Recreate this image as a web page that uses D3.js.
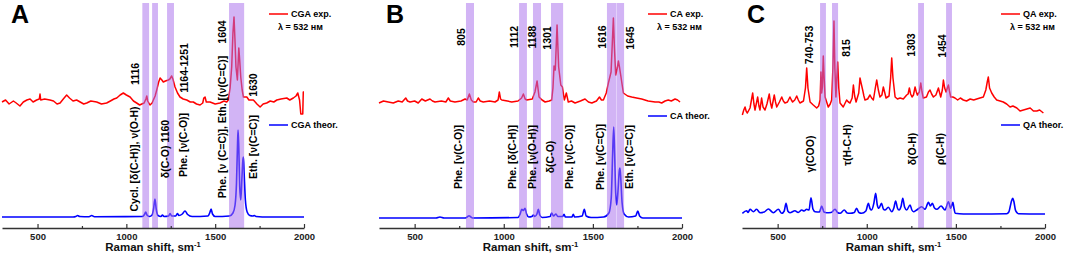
<!DOCTYPE html>
<html>
<head>
<meta charset="utf-8">
<title>Raman spectra</title>
<style>
  body { margin: 0; background: #fff; }
  svg { font-family: "Liberation Sans", Arial, sans-serif; font-weight: bold; }
  .tick text { font-size: 9.5px; font-weight: bold; fill: #222; }
</style>
</head>
<body>
<svg></svg>
<script src="https://d3js.org/d3.v7.min.js"></script>
<script>
const width = 1065;
const height = 258;

// wavenumber (cm-1), intensity (a.u.)
const cgaExp = [[300,126],[320,128],[340,124],[364,127],[380,125],[401,122],[420,126],[440,128],[458,129],[475,126],[495,128],[510,129],[514,134],[518,128],[540,129],[570,128],[590,127],[610,124],[627,125],[645,129],[664,133],[680,130],[700,127],[720,128],[740,126],[760,124],[777,125],[800,127],[833,126],[860,124],[889,125],[910,127],[930,129],[946,130],[965,133],[983,135],[1000,133],[1021,131],[1040,127],[1058,125],[1075,123],[1087,124],[1100,125],[1110,129],[1115,132],[1120,127],[1133,123],[1145,125],[1152,128],[1162,132],[1171,138],[1182,146],[1190,150],[1200,148],[1208,146],[1220,147],[1236,148],[1245,149],[1255,152],[1262,149],[1274,141],[1288,135],[1302,131],[1320,129],[1340,128],[1360,126],[1377,126],[1395,124],[1415,123],[1430,125],[1436,130],[1443,131],[1450,126],[1471,126],[1500,124],[1527,125],[1550,127],[1565,126],[1574,128],[1584,140],[1593,161],[1600,195],[1606,211],[1611,190],[1617,161],[1625,148],[1633,180],[1638,168],[1644,151],[1652,138],[1659,131],[1678,131],[1690,128],[1715,128],[1735,124],[1753,121],[1770,124],[1790,125],[1810,127],[1830,126],[1847,128],[1870,129],[1903,130],[1920,128],[1940,130],[1955,132],[1965,135],[1975,128],[1982,114],[1993,114],[1996,136],[2000,136]];
const cgaTheor = [[300,11],[700,11],[715,11.5],[726,12.5],[737,11.5],[790,11.3],[805,12.5],[820,11.3],[1090,11.5],[1102,13.5],[1109,16],[1116,13],[1130,11.5],[1145,13],[1153,19],[1161,29],[1168,19],[1178,12.5],[1195,11.5],[1203,13],[1212,11.5],[1238,12],[1246,14.5],[1255,12],[1278,12],[1287,14.5],[1296,12.5],[1315,14],[1330,17],[1345,13.5],[1370,11.5],[1460,12],[1470,15.5],[1477,19],[1485,14],[1500,11.5],[1580,12],[1600,15],[1612,23],[1620,45],[1626,85],[1629,98],[1633,80],[1638,42],[1644,28],[1650,48],[1656,68],[1659,71],[1663,55],[1670,28],[1680,16],[1695,12.5],[1712,12],[1721,12.5],[1730,11.5],[1800,11],[2000,11]];

const caExp = [[300,125],[325,127],[352,126],[380,125],[408,127],[430,126],[450,130],[460,127],[474,126],[500,127],[520,125],[540,129],[560,127],[586,129],[600,127],[614,126],[650,127],[675,126],[689,130],[700,127],[726,126],[760,127],[783,129],[795,128],[807,134],[818,128],[829,126],[845,126],[857,130],[868,127],[885,126],[920,127],[951,126],[968,128],[975,136],[982,129],[989,128],[1020,127],[1045,126],[1080,127],[1100,130],[1110,134],[1120,129],[1129,128],[1160,129],[1175,136],[1187,147],[1198,131],[1215,128],[1232,126],[1255,127],[1269,128],[1276,140],[1282,162],[1289,158],[1299,203],[1308,161],[1320,143],[1329,141],[1340,128],[1351,135],[1362,126],[1380,127],[1400,125],[1430,127],[1456,129],[1475,126],[1494,125],[1520,127],[1537,131],[1548,128],[1559,128],[1575,135],[1587,145],[1602,156],[1609,185],[1615,210],[1621,180],[1628,153],[1637,160],[1643,167],[1650,160],[1656,153],[1671,135],[1695,132],[1718,131],[1745,130],[1774,129],[1810,127],[1849,126],[1870,126],[1886,125],[1905,127],[1923,128],[1940,127],[1961,129],[1975,128],[1989,126]];
const caTheor = [[300,10],[620,10],[642,11],[665,10],[785,10],[798,11.5],[805,12.3],[812,11.5],[825,10],[1080,10.5],[1092,14],[1101,18.7],[1110,17.5],[1119,19.7],[1128,14],[1140,11],[1158,11.5],[1166,13],[1174,11.5],[1186,14],[1194,18.7],[1202,13],[1215,10.5],[1260,11.5],[1269,15],[1279,12],[1293,14],[1303,11.5],[1330,11.5],[1338,13.7],[1346,11],[1382,11],[1390,13.7],[1398,11],[1440,12],[1452,18.7],[1462,12],[1490,10.5],[1560,11],[1590,15],[1603,30],[1611,75],[1617,101],[1622,75],[1628,35],[1634,23],[1642,40],[1648,57],[1652,60],[1657,48],[1664,25],[1675,14],[1700,11],[1740,12],[1752,17],[1762,12],[1780,10],[2000,10]];

const qaExp = [[302,113],[310,118],[317,121],[323,117],[330,115],[345,120],[360,135],[367,124],[373,118],[388,131],[395,122],[401,118],[410,130],[418,121],[429,118],[440,124],[453,134],[460,125],[467,120],[481,133],[488,126],[495,121],[510,126],[523,131],[532,127],[541,125],[555,126],[569,131],[577,128],[584,126],[596,128],[607,132],[616,128],[625,125],[645,127],[656,140],[663,160],[670,140],[682,126],[700,123],[719,120],[730,122],[738,128],[743,156],[747,135],[751,141],[756,172],[761,150],[766,131],[775,126],[784,121],[795,124],[803,128],[810,160],[816,207],[821,160],[827,131],[832,150],[837,166],[843,140],[850,125],[868,121],[887,128],[897,126],[906,125],[918,130],[925,143],[932,132],[940,126],[955,135],[962,150],[968,145],[977,138],[984,132],[990,128],[1005,129],[1018,133],[1027,130],[1037,128],[1048,140],[1056,148],[1065,138],[1074,131],[1085,133],[1093,141],[1100,136],[1108,130],[1125,132],[1134,150],[1140,170],[1147,150],[1159,131],[1172,129],[1187,130],[1205,129],[1224,133],[1232,134],[1239,140],[1246,134],[1254,131],[1262,133],[1271,141],[1278,136],[1284,133],[1295,136],[1303,145],[1310,136],[1317,130],[1335,131],[1346,136],[1355,138],[1364,134],[1374,131],[1388,133],[1396,137],[1402,140],[1409,135],[1415,131],[1424,138],[1430,148],[1437,140],[1445,136],[1452,140],[1458,143],[1464,137],[1471,131],[1483,131],[1495,130],[1510,128],[1525,130],[1542,128],[1560,127],[1580,129],[1600,128],[1617,129],[1635,130],[1654,131],[1668,138],[1676,146],[1682,151],[1689,140],[1701,135],[1715,131],[1729,128],[1748,127],[1766,126],[1785,124],[1804,121],[1820,122],[1842,120],[1860,117],[1879,118],[1898,119],[1917,120],[1935,117],[1954,117],[1970,118],[1991,115]];
const qaTheor = [[302,14.7],[326,17.3],[334,15.5],[345,18.7],[364,16.3],[382,18.7],[401,15.3],[425,16],[448,19],[476,15.3],[504,18.7],[523,14.7],[537,17],[547,24.7],[557,17],[569,15.3],[597,17.3],[615,15.5],[635,18],[648,17],[663,18.7],[676,18],[687,30.3],[698,19],[710,16.3],[735,16],[747,22],[760,16],[775,15.3],[800,15.5],[822,18.7],[836,15.5],[850,14.7],[874,18],[890,15],[906,14.7],[930,15.5],[943,19.7],[956,15.5],[971,14.7],[995,17],[1009,24.7],[1018,19.5],[1027,18],[1040,25],[1050,34.7],[1059,23],[1068,19.7],[1083,24.7],[1093,19],[1102,18],[1121,20.7],[1140,16.3],[1152,20],[1162,27],[1172,20],[1181,18],[1193,22],[1202,29.7],[1212,21],[1224,18],[1243,23],[1253,18],[1262,16.3],[1280,18],[1308,21.3],[1327,18.7],[1346,25.7],[1357,22],[1368,24.7],[1380,20],[1393,18.7],[1417,22],[1439,18],[1458,26.3],[1471,19.7],[1483,25.7],[1490,19],[1496,14.7],[1542,14],[1617,14],[1785,14.3],[1797,16],[1804,20.7],[1812,27],[1819,29.7],[1826,26],[1834,18],[1842,15.5],[1851,14.3],[2000,14]];

// highlighted wavenumber ranges
const cgaBands = [[1090,1128],[1145,1178],[1229,1268],[1578,1663]];
const caBands = [[788,833],[1086,1130],[1164,1209],[1265,1333],[1579,1630],[1632,1675]];
const qaBands = [[738,771],[805,839],[1288,1321],[1445,1478]];

// annotation texts at (wavenumber, intensity)
const cgaLabels = [
  ['1116', 1049, 154], ['Cycl. [δ(C-H)], ν(O-H)', 1043, 69],
  ['δ(C-O)  1160', 1218, 79], ['Phe. [ν(C-O)]', 1319, 83], ['1164-1251', 1325, 160],
  ['Phe. [ν (C=C)], Eth. [(ν(C=C)]', 1539, 101], ['1604', 1539, 196],
  ['1630', 1713, 143], ['Eth. [ν(C=C)]', 1713, 81]
];
const caLabels = [
  ['805', 760, 191], ['1112', 1058, 191], ['1188', 1159, 191], ['1301', 1243, 190],
  ['1616', 1551, 191], ['1645', 1709, 190],
  ['Phe. [ν(C-O)]', 743, 71], ['Phe. [δ(C-H)]', 1046, 71], ['Phe. [ν(O-H)]', 1159, 71],
  ['δ(C-O)', 1260, 71], ['Phe. [ν(C-O)]', 1366, 71], ['Phe. [ν(C=C)]', 1540, 71],
  ['Eth. [ν(C=C)]', 1703, 71]
];
const qaLabels = [
  ['740-753', 676, 183], ['815', 884, 180], ['1303', 1248, 183], ['1454', 1422, 182],
  ['γ(COO)', 682, 74], ['τ(H-C-H)', 889, 83], ['δ(O-H)', 1254, 79], ['ρ(C-H)', 1411, 79]
];

const xTicks = [500, 1000, 1500, 2000];
const xMinor = [750, 1250, 1750];

const panels = [
  { letter: 'A', left: 2, right: 304, letterX: 11, exp: cgaExp, theor: cgaTheor, bands: cgaBands, labels: cgaLabels,
    expName: 'CGA exp.', theorName: 'CGA theor.', legendX: 291, theorY: 125 },
  { letter: 'B', left: 379, right: 682, letterX: 386, exp: caExp, theor: caTheor, bands: caBands, labels: caLabels,
    expName: 'CA exp.', theorName: 'CA theor.', legendX: 670, theorY: 116 },
  { letter: 'C', left: 742, right: 1045, letterX: 747, exp: qaExp, theor: qaTheor, bands: qaBands, labels: qaLabels,
    expName: 'QA exp.', theorName: 'QA theor.', legendX: 1023, theorY: 125 }
];

const axisY = 228;
const svg = d3.select('svg').attr('width', width).attr('height', height);

const y = d3.scaleLinear().domain([0, 225]).range([axisY, 3]);

panels.forEach(p => {
  const x = d3.scaleLinear().domain([300, 2000]).range([p.left, p.right]);
  const g = svg.append('g');

  const lineExp = d3.line().x(d => x(d[0])).y(d => y(d[1]));
  const lineTheor = d3.line().x(d => x(d[0])).y(d => y(d[1])).curve(d3.curveMonotoneX);

  g.append('path').datum(p.theor).attr('d', lineTheor)
    .attr('fill', 'none').attr('stroke', '#0000ff').attr('stroke-width', 1.6);
  g.append('path').datum(p.exp).attr('d', lineExp)
    .attr('fill', 'none').attr('stroke', '#ff0000').attr('stroke-width', 1.5).attr('stroke-linejoin', 'round');

  // purple bands over the spectra
  g.selectAll('rect.band').data(p.bands).enter().append('rect')
    .attr('class', 'band')
    .attr('x', d => x(d[0]))
    .attr('width', d => x(d[1]) - x(d[0]))
    .attr('y', 3)
    .attr('height', axisY - 3)
    .attr('fill', '#a970eb')
    .attr('opacity', 0.52);

  // axis
  const ax = g.append('g').attr('transform', `translate(0,${axisY})`)
    .call(d3.axisBottom(x).tickValues(xTicks).tickFormat(d3.format('d'))
      .tickSizeInner(-4).tickSizeOuter(0).tickPadding(5));
  ax.select('.domain').attr('stroke', '#333').attr('stroke-width', 1.6);
  ax.selectAll('.tick line').attr('stroke', '#333').attr('stroke-width', 1.2);
  g.append('g').attr('transform', `translate(0,${axisY})`)
    .call(d3.axisBottom(x).tickValues(xMinor).tickSizeInner(-2).tickSizeOuter(0).tickFormat(''))
    .call(a => a.select('.domain').remove())
    .selectAll('.tick line').attr('stroke', '#333').attr('stroke-width', 1.2);

  const title = g.append('text')
    .attr('x', (p.left + p.right) / 2).attr('y', 251)
    .attr('text-anchor', 'middle').attr('font-size', 11.5).attr('fill', '#111');
  title.append('tspan').text('Raman shift, sm');
  title.append('tspan').attr('dy', -4).attr('font-size', 7.5).text('-1');

  // annotations
  g.selectAll('text.lab').data(p.labels).enter().append('text')
    .attr('class', 'lab')
    .attr('transform', d => `translate(${x(d[1])},${y(d[2])}) rotate(-90)`)
    .attr('text-anchor', 'middle')
    .attr('dy', '0.35em')
    .attr('font-size', 10.5)
    .attr('fill', '#000')
    .text(d => d[0]);

  // panel letter
  g.append('text').attr('x', p.letterX).attr('y', 23)
    .attr('font-size', 25).attr('fill', '#000').text(p.letter);

  // legend
  g.append('line').attr('x1', p.legendX - 22).attr('x2', p.legendX - 3)
    .attr('y1', 14).attr('y2', 14).attr('stroke', '#ff0000').attr('stroke-width', 1.5);
  g.append('text').attr('x', p.legendX).attr('y', 14).attr('dy', '0.35em')
    .attr('font-size', 9).text(p.expName);
  g.append('text').attr('x', p.legendX - 13).attr('y', 27).attr('dy', '0.35em')
    .attr('font-size', 9).text('λ = 532 нм');
  g.append('line').attr('x1', p.legendX - 22).attr('x2', p.legendX - 3)
    .attr('y1', p.theorY).attr('y2', p.theorY).attr('stroke', '#0000ff').attr('stroke-width', 1.5);
  g.append('text').attr('x', p.legendX).attr('y', p.theorY).attr('dy', '0.35em')
    .attr('font-size', 9).text(p.theorName);
});
</script>
</body>
</html>
